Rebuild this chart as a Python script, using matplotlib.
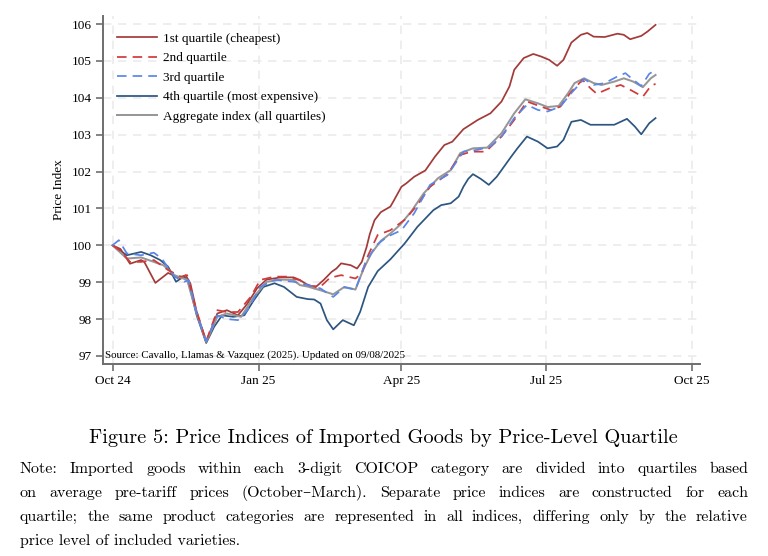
import matplotlib
matplotlib.use("Agg")
import matplotlib.pyplot as plt
import matplotlib.dates as mdates
import pandas as pd

START = pd.Timestamp("2024-10-01")

q1_days = [0, 5, 11, 18, 20, 27, 35, 43, 46, 49, 53, 59, 66, 72, 79, 85, 91, 97, 106, 114, 118, 123, 127, 133, 138, 141, 144, 150, 154, 157, 160, 162, 165, 169, 175, 177, 182, 185, 190, 197, 203, 209, 214, 221, 230, 238, 245, 250, 253, 259, 265, 270, 275, 280, 284, 289, 295, 299, 303, 310, 318, 322, 326, 333, 337, 342]
q1_vals = [100.0, 99.9, 99.5, 99.6, 99.55, 98.98, 99.25, 99.1, 99.19, 98.97, 98.2, 97.38, 98.15, 98.24, 98.1, 98.42, 98.83, 99.07, 99.13, 99.13, 99.06, 98.92, 98.83, 99.06, 99.28, 99.37, 99.51, 99.46, 99.37, 99.55, 99.95, 100.3, 100.68, 100.9, 101.05, 101.2, 101.59, 101.68, 101.86, 102.03, 102.4, 102.72, 102.81, 103.15, 103.4, 103.58, 103.9, 104.31, 104.76, 105.08, 105.19, 105.12, 105.03, 104.87, 105.03, 105.5, 105.71, 105.76, 105.66, 105.65, 105.74, 105.71, 105.59, 105.68, 105.8, 105.98]

q2_days = [0, 5, 11, 18, 26, 35, 43, 47, 53, 59, 66, 72, 79, 87, 93, 102, 110, 118, 122, 125, 131, 137, 144, 148, 153, 157, 161, 167, 175, 184, 192, 200, 211, 219, 226, 235, 245, 253, 261, 270, 276, 282, 289, 296, 301, 305, 313, 320, 326, 334, 339, 342]
q2_vals = [100.0, 99.85, 99.55, 99.55, 99.6, 99.33, 99.15, 99.19, 98.2, 97.4, 98.24, 98.19, 98.19, 98.6, 99.06, 99.15, 99.15, 99.05, 98.95, 98.9, 98.88, 99.12, 99.19, 99.15, 99.1, 99.24, 99.73, 100.28, 100.41, 100.69, 101.09, 101.59, 101.93, 102.45, 102.54, 102.54, 102.95, 103.4, 103.9, 103.76, 103.67, 103.76, 104.17, 104.49, 104.26, 104.11, 104.26, 104.35, 104.22, 104.03, 104.32, 104.38]

q3_days = [0, 4, 9, 18, 26, 31, 39, 45, 48, 53, 59, 66, 72, 79, 85, 93, 102, 114, 123, 131, 137, 139, 146, 153, 159, 166, 173, 182, 190, 200, 211, 221, 230, 238, 245, 253, 261, 268, 274, 282, 289, 297, 303, 310, 318, 323, 326, 333, 338, 342]
q3_vals = [100.0, 100.14, 99.78, 99.73, 99.8, 99.64, 99.15, 99.01, 99.05, 98.15, 97.4, 98.1, 98.0, 97.97, 98.24, 98.87, 99.06, 99.01, 98.92, 98.83, 98.65, 98.6, 98.86, 98.8, 99.5, 100.0, 100.23, 100.41, 100.87, 101.64, 101.91, 102.54, 102.59, 102.68, 102.95, 103.45, 103.81, 103.67, 103.63, 103.76, 104.13, 104.51, 104.35, 104.4, 104.58, 104.67, 104.56, 104.32, 104.65, 104.76]

q4_days = [0, 9, 18, 24, 30, 35, 40, 45, 48, 53, 59, 64, 69, 76, 83, 89, 95, 102, 108, 116, 123, 127, 131, 135, 139, 145, 152, 156, 161, 167, 175, 184, 192, 202, 207, 213, 218, 221, 224, 227, 232, 237, 242, 251, 255, 261, 268, 274, 280, 284, 289, 295, 301, 308, 316, 324, 329, 333, 338, 342]
q4_vals = [100.0, 99.73, 99.82, 99.73, 99.6, 99.42, 99.01, 99.16, 98.97, 98.1, 97.35, 97.79, 98.1, 98.06, 98.1, 98.51, 98.87, 98.97, 98.87, 98.6, 98.54, 98.53, 98.42, 97.97, 97.72, 97.97, 97.83, 98.2, 98.87, 99.3, 99.62, 100.05, 100.5, 100.95, 101.09, 101.14, 101.32, 101.59, 101.8, 101.93, 101.8, 101.64, 101.86, 102.4, 102.63, 102.95, 102.81, 102.63, 102.68, 102.86, 103.35, 103.4, 103.27, 103.27, 103.27, 103.43, 103.22, 103.01, 103.31, 103.45]

agg_days = [0, 9, 18, 26, 32, 39, 47, 53, 59, 66, 72, 81, 89, 97, 106, 114, 118, 123, 131, 139, 146, 153, 158, 163, 169, 175, 181, 188, 196, 205, 213, 219, 227, 236, 245, 253, 260, 268, 274, 281, 287, 291, 297, 303, 308, 316, 322, 328, 334, 339, 342]
agg_vals = [100.0, 99.64, 99.67, 99.55, 99.46, 99.19, 99.06, 98.15, 97.38, 98.06, 98.15, 98.06, 98.6, 99.01, 99.07, 99.06, 98.92, 98.88, 98.78, 98.67, 98.87, 98.8, 99.35, 99.78, 100.12, 100.32, 100.55, 100.91, 101.41, 101.82, 102.04, 102.5, 102.63, 102.65, 103.04, 103.58, 103.96, 103.85, 103.75, 103.78, 104.13, 104.4, 104.53, 104.4, 104.35, 104.44, 104.53, 104.44, 104.29, 104.53, 104.62]

labels = ["1st quartile (cheapest)", "2nd quartile", "3rd quartile",
          "4th quartile (most expensive)", "Aggregate index (all quartiles)"]
xticks = ["2024-10-01", "2025-01-01", "2025-04-01", "2025-07-01", "2025-10-01"]
yticks = [97, 98, 99, 100, 101, 102, 103, 104, 105, 106]
caption = "Figure 5: Price Indices of Imported Goods by Price-Level Quartile"
note_lines = [
    "Note: Imported goods within each 3-digit COICOP category are divided into quartiles based",
    "on average pre-tariff prices (October\u2013March).  Separate price indices are constructed for each",
    "quartile; the same product categories are represented in all indices, differing only by the relative",
    "price level of included varieties.",
]
source = "Source: Cavallo, Llamas & Vazquez (2025). Updated on 09/08/2025"


def to_dates(days):
    return [START + pd.Timedelta(days=d) for d in days]


SERIF = ["Liberation Serif", "DejaVu Serif"]
CM = ["cmr10", "DejaVu Serif"]
plt.rcParams["axes.unicode_minus"] = False

fig = plt.figure(figsize=(7.68, 5.56), dpi=100)
ax = fig.add_axes([103 / 768, 1 - 364 / 556, (700 - 103) / 768, (364 - 16) / 556])

c1, c2, c3, c4, cg = "#a33a3a", "#d03a3a", "#5a86e6", "#2c5580", "#979797"
lw = 1.25
h4, = ax.plot(to_dates(q4_days), q4_vals, color=c4, lw=lw, zorder=3)
h1, = ax.plot(to_dates(q1_days), q1_vals, color=c1, lw=lw, zorder=3)
hg, = ax.plot(to_dates(agg_days), agg_vals, color=cg, lw=1.45, zorder=3)
h2, = ax.plot(to_dates(q2_days), q2_vals, color=c2, lw=lw, dashes=(5.5, 3.5), zorder=4)
h3, = ax.plot(to_dates(q3_days), q3_vals, color=c3, lw=lw, dashes=(5.5, 3.5), zorder=4)

ax.set_xlim(pd.Timestamp("2024-09-25"), pd.Timestamp("2025-10-06"))
ax.set_ylim(96.78, 106.22)
ax.set_xticks([pd.Timestamp(t) for t in xticks])
ax.xaxis.set_major_formatter(mdates.DateFormatter("%b %y"))
ax.set_yticks(yticks)

for s in ["top", "right"]:
    ax.spines[s].set_visible(False)
for s in ["left", "bottom"]:
    ax.spines[s].set_color("#6e6e6e")
    ax.spines[s].set_linewidth(1.4)
ax.tick_params(axis="both", colors="#6e6e6e", width=1.2, length=5, labelcolor="black",
               labelsize=9.5, pad=3)
for lab in ax.get_xticklabels() + ax.get_yticklabels():
    lab.set_family(SERIF)
ax.grid(True, color="#ebebeb", lw=1.2, ls=(0, (5, 4)))
ax.set_axisbelow(True)

ax.set_ylabel("Price Index", family=SERIF, fontsize=9.5, labelpad=5)

leg = ax.legend([h1, h2, h3, h4, hg], labels, loc="upper left", frameon=False,
                prop={"family": SERIF, "size": 9.5}, handlelength=3.0,
                handletextpad=0.45, labelspacing=0.55, borderaxespad=0.0,
                bbox_to_anchor=(0.015, 0.968))

ax.text(0.003, 0.012, source, transform=ax.transAxes, family=SERIF, fontsize=7.9,
        ha="left", va="bottom", zorder=5)

fig.text(383 / 768, 1 - 438 / 556, caption, family=CM, fontsize=14.6,
         ha="center", va="center")

# justified note
renderer = fig.canvas.get_renderer()
left_px, right_px = 20, 748
ys = [469, 493, 517, 541]
fs_note = 11.5
for i, line in enumerate(note_lines):
    y = 1 - ys[i] / 556
    if i == len(note_lines) - 1:
        fig.text(left_px / 768, y, line, family=CM, fontsize=fs_note, ha="left", va="center")
        continue
    words = line.split()
    texts = [fig.text(0, y, w, family=CM, fontsize=fs_note, ha="left", va="center") for w in words]
    widths = [t.get_window_extent(renderer).width for t in texts]
    gap = (right_px - left_px - sum(widths)) / (len(words) - 1)
    x = left_px
    for t, w in zip(texts, widths):
        t.set_x(x / 768)
        x += w + gap

fig.savefig("out.png", dpi=100)
